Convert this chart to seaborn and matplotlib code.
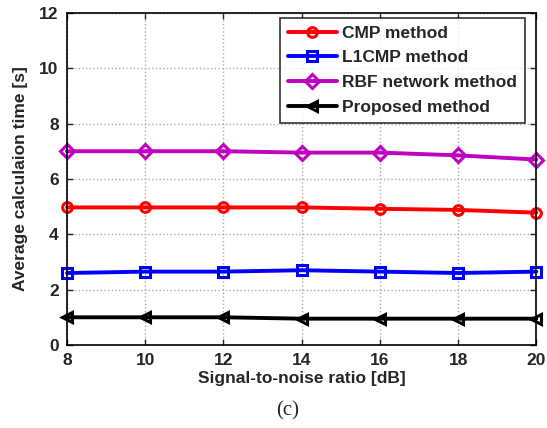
import numpy as np
import pandas as pd
import matplotlib
matplotlib.use("Agg")
import matplotlib.pyplot as plt
import seaborn as sns

# datos
snr = [8, 10, 12, 14, 16, 18, 20]
cmp_t = [4.97, 4.97, 4.97, 4.97, 4.92, 4.88, 4.78]
l1cmp_t = [2.6, 2.65, 2.65, 2.7, 2.65, 2.6, 2.65]
rbf_t = [7.0, 7.0, 7.0, 6.95, 6.95, 6.85, 6.7]
prop_t = [1.0, 1.0, 1.0, 0.95, 0.95, 0.95, 0.95]

metodos = ["CMP method", "L1CMP method", "RBF network method", "Proposed method"]
colores = ["#ff0000", "#0000ff", "#c000c0", "#000000"]
marcas = ["o", "s", "D", "<"]

df = pd.DataFrame({"SNR": snr * 4,
                   "t": cmp_t + l1cmp_t + rbf_t + prop_t,
                   "Metodo": sum([[m] * len(snr) for m in metodos], [])})

sns.set_style("ticks")
plt.rcParams["font.family"] = ["Arial", "Liberation Sans", "DejaVu Sans"]

fig = plt.figure(figsize=(5.47, 4.28), dpi=100)
ax = fig.add_axes([0.1225, 0.194, 0.858, 0.776])

sns.lineplot(data=df, x="SNR", y="t", hue="Metodo", style="Metodo",
             hue_order=metodos, style_order=metodos,
             palette=colores, markers=marcas, dashes=False,
             linewidth=2.8, markersize=7, markerfacecolor="none",
             markeredgewidth=2.2, ax=ax)

for ln in ax.get_lines():
    ln.set_markerfacecolor("none")
    ln.set_markeredgecolor(ln.get_color())
    ln.set_clip_on(False)

ax.set_xlim(8, 20)
ax.set_ylim(0, 12)
ax.set_xticks([8, 10, 12, 14, 16, 18, 20])
ax.set_yticks([0, 2, 4, 6, 8, 10, 12])
ax.grid(True, color="#aaaaaa", linestyle=":", linewidth=1.0)
ax.tick_params(direction="in", top=True, right=True, length=4, width=1,
               labelsize=12.5, pad=6)
for lab in ax.get_xticklabels() + ax.get_yticklabels():
    lab.set_fontweight("bold")
for s in ax.spines.values():
    s.set_linewidth(1.2)
    s.set_color("black")

ax.set_xlabel("Signal-to-noise ratio [dB]", fontsize=12.5, fontweight="bold", labelpad=2)
ax.set_ylabel("Average calculaion time [s]", fontsize=12.5, fontweight="bold", labelpad=8)

h, l = ax.get_legend_handles_labels()
leg = ax.legend(h, l, loc="upper right", bbox_to_anchor=(0.975, 0.985),
                borderaxespad=0,
                prop={"weight": "bold", "size": 12.5}, frameon=True, fancybox=False,
                edgecolor="black", handlelength=2.8, borderpad=0.45,
                labelspacing=0.55, handletextpad=0.3)
leg.get_frame().set_linewidth(1.2)

fig.text(0.525, 0.03, "(c)", ha="center", fontsize=15,
         family=["Liberation Serif", "DejaVu Serif"])

fig.savefig("out.png", dpi=100)
